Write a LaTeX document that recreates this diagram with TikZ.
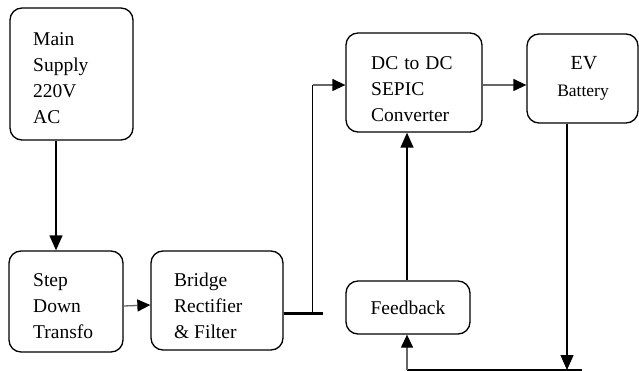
\documentclass[tikz,border=0pt]{standalone}
\usepackage{fontspec}
\setmainfont{Liberation Serif}
\usetikzlibrary{arrows.meta,calc}
\begin{document}
\begin{tikzpicture}[x=1pt,y=-1pt,
  blk/.style={draw,line width=1.3pt,rounded corners=12pt,inner sep=0pt},
  txt/.style={inner sep=0pt,align=left,anchor=west,font=\fontsize{19.5}{26}\selectfont},
  arr/.style={line width=1.3pt,-{Triangle[length=15pt,width=13pt]}},
  garr/.style={line width=1.3pt,draw=black!60,-{Triangle[length=13pt,width=12pt,color=black]}},
  ln/.style={line width=1.3pt}]
\useasboundingbox (0,0) rectangle (639,371);
% boxes
\node[blk,minimum width=123pt,minimum height=132pt] (main) at (71.5,74) {};
\node[txt] (maintxt) at (33,78) {Main\\Supply\\220V\\AC};
\node[blk,minimum width=114pt,minimum height=101pt] (step) at (66,301.5) {};
\node[txt] (steptxt) at (33,306) {Step\\Down\\Transfo};
\node[blk,minimum width=132pt,minimum height=99pt] (bridge) at (217,300.5) {};
\node[txt] (bridgetxt) at (174,306) {Bridge\\Rectifier\\\& Filter};
\node[blk,minimum width=136pt,minimum height=99pt] (dc) at (414,82.5) {};
\node[txt] (dctxt) at (371,89) {DC\hspace{6pt}to\hspace{6pt}DC\\SEPIC\\Converter};
\node[blk,minimum width=111pt,minimum height=89pt] (ev) at (582.5,78.5) {};
\node[inner sep=0pt,font=\fontsize{20}{24}\selectfont] (evtxt) at (584,63) {EV};
\node[inner sep=0pt,font=\fontsize{17.5}{24}\selectfont] (battxt) at (583,93) {Battery};
\node[blk,minimum width=124pt,minimum height=53pt,font=\fontsize{19.5}{26}\selectfont] (fb) at (408,307.5) {Feedback};
% connectors
\draw[arr] ([xshift=-15.5pt]main.south) -- ([xshift=-10pt]step.north);
\draw[garr] ([yshift=-4.5pt]step.east) -- ([yshift=-4.5pt]bridge.west);
\coordinate (bus) at ($(bridge.east)+(29,12.5)$);
\draw[line width=3pt] ([yshift=-12.5pt]bridge.east) -- ++(39pt,0);
\draw[ln] (bus) -- (bus |- 0,85) coordinate (top);
\draw[garr] (top) -- (dc.west |- top);
\draw[garr] (dc.east |- top) -- (ev.west |- top);
\draw[arr] ([xshift=-1pt]fb.north) -- ([xshift=-7pt]dc.south);
\coordinate (bl) at (407,370);
\coordinate (br) at (582,370);
\draw[arr] ([xshift=-15.5pt]ev.south) -- ([xshift=-15.5pt]ev.south |- bl);
\draw[ln] (bl) -- (br);
\draw[garr] (bl) -- (bl |- fb.south);
\end{tikzpicture}
\end{document}
